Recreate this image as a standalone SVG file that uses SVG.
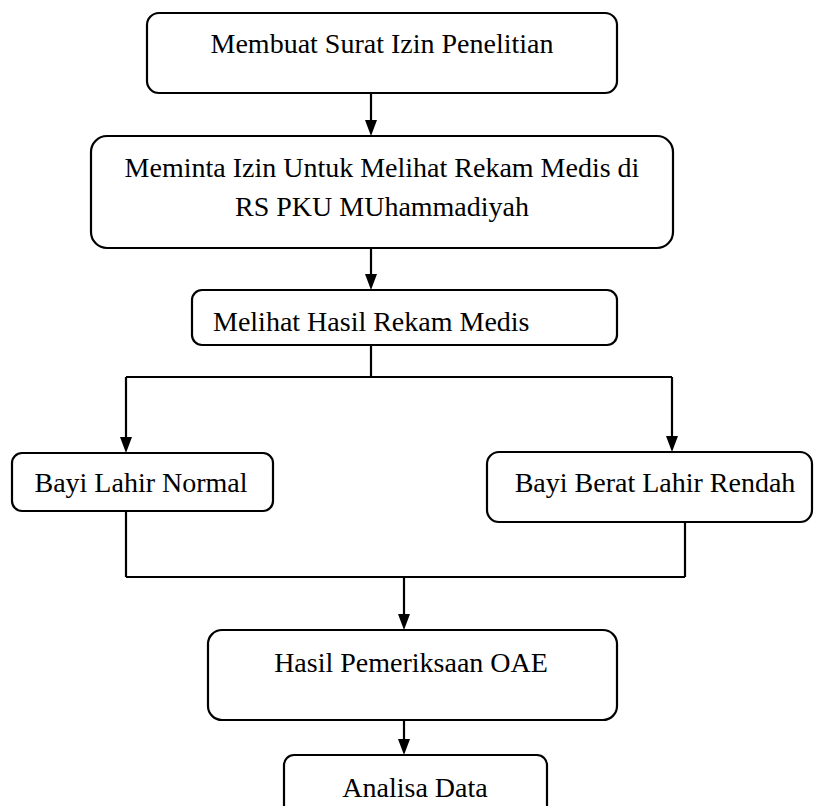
<svg xmlns="http://www.w3.org/2000/svg" width="814" height="806" viewBox="0 0 814 806">
<style>
.box{fill:#fff;stroke:#000;stroke-width:2.2}
.ln{fill:none;stroke:#000;stroke-width:2.2}
.ah{fill:#000}
</style>
<rect width="814" height="806" fill="#fff"/>
<g id="connectors">
<path class="ln" d="M371,93 V120"/>
<path class="ah" d="M365,120 L377,120 L371,136 Z"/>
<path class="ln" d="M371,248 V274"/>
<path class="ah" d="M365,274 L377,274 L371,290 Z"/>
<path class="ln" d="M371,345 V377 M126,377 H672 M126,377 V437 M672,377 V436"/>
<path class="ah" d="M120,437 L132,437 L126,453 Z"/>
<path class="ah" d="M666,436 L678,436 L672,452 Z"/>
<path class="ln" d="M126,511 V577 M685,522 V577 M126,577 H685 M404,577 V614"/>
<path class="ah" d="M398,614 L410,614 L404,630 Z"/>
<path class="ln" d="M404,720 V739"/>
<path class="ah" d="M398,739 L410,739 L404,755 Z"/>
</g>
<g font-family="'Liberation Serif', 'Times New Roman', 'DejaVu Serif', serif" font-size="28" fill="#000">
<g id="n1">
<rect class="box" x="147" y="13" width="470" height="80" rx="12"/>
<text x="382" y="53" text-anchor="middle">Membuat Surat Izin Penelitian</text>
</g>
<g id="n2">
<rect class="box" x="91" y="136" width="582" height="112" rx="16"/>
<text x="382" y="177" text-anchor="middle">Meminta Izin Untuk Melihat Rekam Medis di</text>
<text x="382" y="216" text-anchor="middle">RS PKU MUhammadiyah</text>
</g>
<g id="n3">
<rect class="box" x="192" y="290" width="425" height="55" rx="10"/>
<text x="213" y="331">Melihat Hasil Rekam Medis</text>
</g>
<g id="n4">
<rect class="box" x="12" y="453" width="261" height="58" rx="10"/>
<text x="141" y="492" text-anchor="middle">Bayi Lahir Normal</text>
</g>
<g id="n5">
<rect class="box" x="487" y="452" width="325" height="70" rx="12"/>
<text x="655" y="492" text-anchor="middle">Bayi Berat Lahir Rendah</text>
</g>
<g id="n6">
<rect class="box" x="208" y="630" width="409" height="90" rx="14"/>
<text x="411" y="672" text-anchor="middle">Hasil Pemeriksaan OAE</text>
</g>
<g id="n7">
<rect class="box" x="284" y="755" width="263" height="70" rx="10"/>
<text x="415" y="797" text-anchor="middle">Analisa Data</text>
</g>
</g>
</svg>
